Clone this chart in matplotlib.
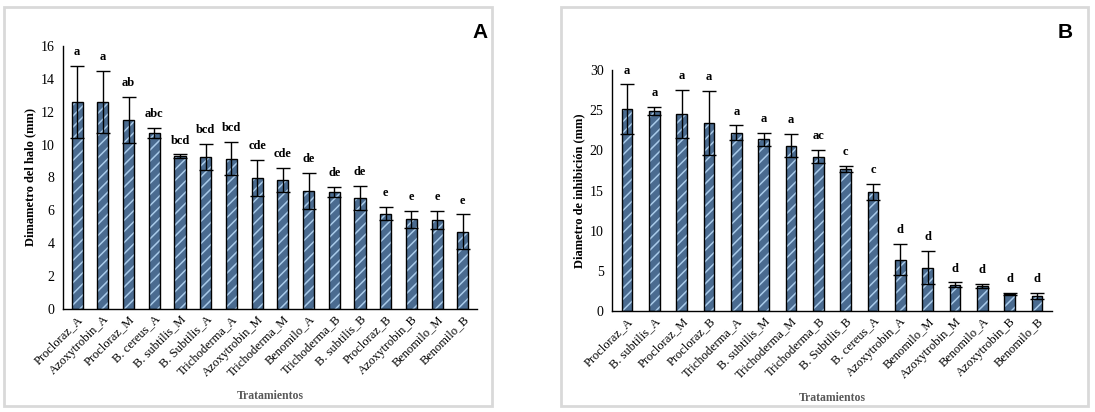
import matplotlib
matplotlib.use("Agg")
import matplotlib.pyplot as plt
from matplotlib.patches import Rectangle

# Panel A - diametro del halo
cats_a = ["Procloraz_A", "Azoxytrobin_A", "Procloraz_M", "B. cereus_A", "B. subtilis_M",
          "B. Subtilis_A", "Trichoderma_A", "Azoxytrobin_M", "Trichoderma_M", "Benomilo_A",
          "Trichoderma_B", "B. subtilis_B", "Procloraz_B", "Azoxytrobin_B", "Benomilo_M",
          "Benomilo_B"]
vals_a = [12.6, 12.6, 11.5, 10.7, 9.3, 9.25, 9.15, 7.95, 7.85, 7.2, 7.1, 6.75, 5.8, 5.45, 5.4, 4.7]
err_a = [2.2, 1.9, 1.4, 0.3, 0.1, 0.8, 1.0, 1.1, 0.75, 1.1, 0.3, 0.75, 0.4, 0.5, 0.55, 1.05]
letters_a = ["a", "a", "ab", "abc", "bcd", "bcd", "bcd", "cde", "cde", "de", "de", "de",
             "e", "e", "e", "e"]

# Panel B - diametro de inhibicion
cats_b = ["Procloraz_A", "B. subtilis_A", "Procloraz_M", "Procloraz_B", "Trichoderma_A",
          "B. subtilis_M", "Trichoderma_M", "Trichoderma_B", "B. Subtilis_B", "B. cereus_A",
          "Azoxytrobin_A", "Benomilo_M", "Azoxytrobin_M", "Benomilo_A", "Azoxytrobin_B",
          "Benomilo_B"]
vals_b = [25.1, 24.9, 24.5, 23.4, 22.2, 21.4, 20.6, 19.2, 17.7, 14.8, 6.4, 5.4, 3.25, 3.1, 2.1, 1.85]
err_b = [3.1, 0.5, 3.0, 4.0, 0.9, 0.8, 1.45, 0.8, 0.35, 1.0, 1.9, 2.1, 0.3, 0.25, 0.1, 0.4]
letters_b = ["a", "a", "a", "a", "a", "a", "a", "ac", "c", "c", "d", "d", "d", "d", "d", "d"]

serif = "Liberation Serif"
bar_color = "#4A6B90"
hatch_color = "#A9CBEA"

plt.rcParams['hatch.linewidth'] = 1.1

fig = plt.figure(figsize=(10.95, 4.12), dpi=100)

# light gray panel frames
for x0, w in [(4, 488), (561, 527)]:
    fig.patches.append(Rectangle((x0 / 1095, 6 / 412), w / 1095, 399 / 412,
                                 transform=fig.transFigure, fill=False,
                                 edgecolor="#D9D9D9", linewidth=2))


def panel(rect, cats, vals, errs, letters, ymax, ystep, ylabel, tag, tag_x, width):
    ax = fig.add_axes(rect)
    x = range(len(cats))
    # fill + light hatch, then black outline on top
    ax.bar(x, vals, width=width, color=bar_color, edgecolor=hatch_color, linewidth=0,
           hatch="///", zorder=2)
    ax.bar(x, vals, width=width, fill=False, edgecolor="black", linewidth=1, zorder=2.5)
    ax.errorbar(x, vals, yerr=errs, fmt="none", ecolor="black", elinewidth=1,
                capsize=5, capthick=1, zorder=3)
    for i, (v, e, l) in enumerate(zip(vals, errs, letters)):
        ax.annotate(l, (i, v + e), xytext=(0, 10), textcoords="offset points",
                    ha="center", va="center", fontsize=9, fontweight="bold", family=serif)
    ax.set_xlim(-0.55, len(cats) - 0.45)
    ax.set_ylim(0, ymax)
    ax.set_yticks(range(0, ymax + 1, ystep))
    ax.set_xticks(list(x))
    ax.set_xticklabels(cats, rotation=45, ha="right", rotation_mode="anchor",
                       fontsize=9, family=serif)
    for t in ax.get_yticklabels():
        t.set_family(serif)
        t.set_fontsize(10)
    ax.tick_params(axis="y", length=0, pad=6)
    ax.tick_params(axis="x", length=0, pad=3)
    ax.spines["top"].set_visible(False)
    ax.spines["right"].set_visible(False)
    ax.spines["left"].set_linewidth(1)
    ax.spines["bottom"].set_linewidth(1)
    ax.set_ylabel(ylabel, family=serif, fontweight="bold", fontsize=9, labelpad=3)
    ax.set_xlabel("Tratamientos", family=serif, fontweight="bold", fontsize=8.5,
                  color="#595959", labelpad=8)
    fig.text(tag_x, 1 - 33 / 412, tag, family="Liberation Sans", fontweight="bold",
             fontsize=15, ha="center", va="center")
    return ax


panel([63 / 1095, 1 - 309 / 412, 414 / 1095, 263 / 412], cats_a, vals_a, err_a, letters_a,
      16, 2, "Dimametro del halo (mm)", "A", 480 / 1095, 0.43)
panel([612 / 1095, 1 - 311 / 412, 440 / 1095, 241 / 412], cats_b, vals_b, err_b, letters_b,
      30, 5, "Diametro de inhibición (mm)", "B", 1065 / 1095, 0.38)

fig.savefig("out.png", dpi=100)
